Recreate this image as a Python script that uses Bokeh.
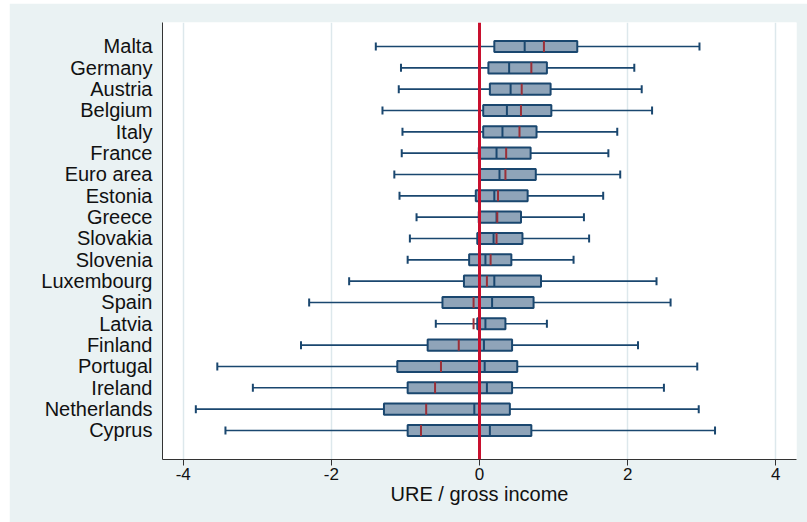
from bokeh.plotting import figure
from bokeh.models import Range1d, FixedTicker, ColumnDataSource, Span
from bokeh.embed import file_html
from bokeh.resources import INLINE

# Distribution of URE / gross income by country (box: interquartile range,
# navy bar: median, red bar: mean, whiskers: adjacent values)
countries = ["Malta", "Germany", "Austria", "Belgium", "Italy", "France",
             "Euro area", "Estonia", "Greece", "Slovakia", "Slovenia",
             "Luxembourg", "Spain", "Latvia", "Finland", "Portugal",
             "Ireland", "Netherlands", "Cyprus"]
lower = [-1.40, -1.06, -1.09, -1.31, -1.04, -1.05, -1.15, -1.08, -0.85, -0.94,
         -0.97, -1.76, -2.30, -0.59, -2.41, -3.54, -3.06, -3.83, -3.43]
q1 = [0.20, 0.12, 0.14, 0.05, 0.05, -0.01, 0.00, -0.05, -0.01, -0.03,
      -0.14, -0.21, -0.50, -0.03, -0.70, -1.11, -0.97, -1.29, -0.97]
median = [0.61, 0.40, 0.42, 0.37, 0.31, 0.23, 0.27, 0.20, 0.23, 0.19,
          0.08, 0.20, 0.17, 0.08, 0.06, 0.07, 0.10, -0.07, 0.14]
mean = [0.87, 0.70, 0.57, 0.56, 0.54, 0.36, 0.35, 0.25, 0.24, 0.23,
        0.15, 0.10, -0.08, -0.08, -0.28, -0.52, -0.60, -0.72, -0.79]
q3 = [1.32, 0.91, 0.96, 0.97, 0.77, 0.69, 0.76, 0.65, 0.56, 0.58,
      0.43, 0.83, 0.73, 0.35, 0.44, 0.51, 0.44, 0.41, 0.70]
upper = [2.97, 2.09, 2.19, 2.33, 1.86, 1.74, 1.90, 1.67, 1.41, 1.48,
         1.27, 2.39, 2.58, 0.91, 2.14, 2.94, 2.49, 2.96, 3.18]
x_ticks = [-4, -2, 0, 2, 4]
x_tick_labels = ["-4", "-2", "0", "2", "4"]

NAVY = "#1a476f"
FILL = "#8fa4b9"
MAROON = "#9b2f38"
ZERO_RED = "#c8102e"
PANEL = "#eaf2f3"
GRID = "#dde8ec"
FONT = "Liberation Sans"

pos = list(range(len(countries)))
src = ColumnDataSource(dict(y=pos, lower=lower, q1=q1, median=median,
                            mean=mean, q3=q3, upper=upper))

p = figure(width=798, height=519, output_backend="svg", toolbar_location=None,
           x_range=Range1d(-4.28, 4.28), y_range=Range1d(19.36, -1.125),
           min_border_left=153, min_border_right=11, min_border_top=19,
           min_border_bottom=63)
p.margin = (3, 0, 0, 9)
p.background_fill_color = "white"
p.border_fill_color = PANEL
p.outline_line_color = None

# whiskers with end caps
p.segment(x0="lower", y0="y", x1="upper", y1="y", source=src,
          line_color=NAVY, line_width=1.6)
p.scatter(x="lower", y="y", source=src, marker="dash", angle=1.5708,
          size=8, line_color=NAVY, line_width=2)
p.scatter(x="upper", y="y", source=src, marker="dash", angle=1.5708,
          size=8, line_color=NAVY, line_width=2)

# interquartile boxes
p.hbar(y="y", left="q1", right="q3", height=0.52, source=src,
       fill_color=FILL, line_color=NAVY, line_width=2)

# median and mean bars
p.scatter(x="median", y="y", source=src, marker="dash", angle=1.5708,
          size=11, line_color=NAVY, line_width=2)
p.scatter(x="mean", y="y", source=src, marker="dash", angle=1.5708,
          size=11, line_color=MAROON, line_width=2)

# zero reference line
p.add_layout(Span(location=0, dimension="height", line_color=ZERO_RED,
                  line_width=3))

# axes
p.xaxis.ticker = FixedTicker(ticks=x_ticks)
p.xaxis.major_label_overrides = {t: s for t, s in zip(x_ticks, x_tick_labels)}
p.xaxis.axis_label = "URE / gross income"
p.xaxis.axis_label_text_font = FONT
p.xaxis.axis_label_text_font_size = "20px"
p.xaxis.axis_label_text_font_style = "normal"
p.xaxis.axis_label_text_color = "#111111"
p.xaxis.axis_label_standoff = 0
p.xaxis.major_label_text_font = FONT
p.xaxis.major_label_text_font_size = "17px"
p.xaxis.major_label_text_color = "#111111"
p.xaxis.major_tick_out = 6
p.xaxis.major_tick_in = 0
p.xaxis.major_label_standoff = 2
p.xaxis.minor_tick_line_color = None
p.xaxis.axis_line_color = "#333333"
p.xaxis.major_tick_line_color = "#333333"

p.yaxis.ticker = FixedTicker(ticks=pos)
p.yaxis.major_label_overrides = {i: c for i, c in zip(pos, countries)}
p.yaxis.major_label_text_font = FONT
p.yaxis.major_label_text_font_size = "20px"
p.yaxis.major_label_text_color = "#111111"
p.yaxis.major_tick_line_color = None
p.yaxis.minor_tick_line_color = None
p.yaxis.major_label_standoff = 4
p.yaxis.axis_line_color = "#333333"

p.xgrid.ticker = FixedTicker(ticks=x_ticks)
p.xgrid.grid_line_color = GRID
p.xgrid.grid_line_width = 1.5
p.ygrid.grid_line_color = None

open("out.html", "w").write(file_html(p, INLINE))
